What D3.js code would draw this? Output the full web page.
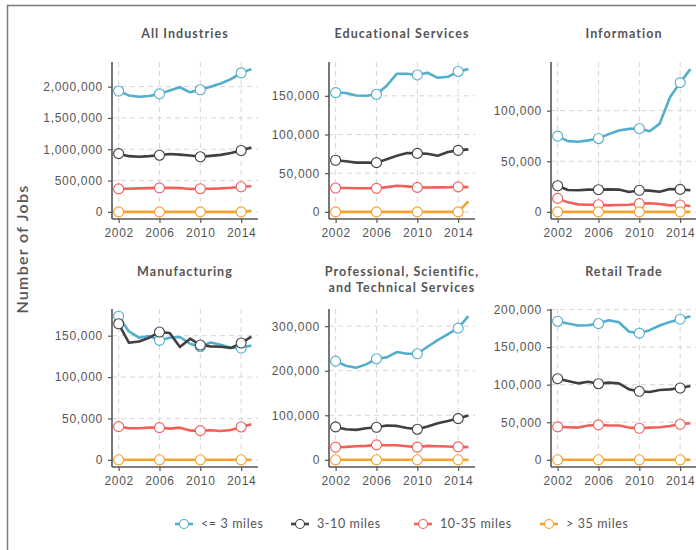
<!DOCTYPE html>
<html>
<head>
<meta charset="utf-8">
<script src="https://cdn.jsdelivr.net/npm/d3@7"></script>
<style>
  html, body { margin: 0; padding: 0; background: #fff; }
  svg { display: block; font-family: Lato, "Open Sans", sans-serif; }
  .tick text { fill: #555; font-size: 12px; letter-spacing: 0.7px; }
  .panel-title { fill: #555; font-size: 12.5px; font-weight: 700; letter-spacing: 1.05px; }
  .legend text { fill: #555; font-size: 12.5px; letter-spacing: 0.6px; }
</style>
</head>
<body>
<svg id="chart" width="696" height="550"></svg>
<script>
// Years on the x axis
const years = [2002, 2003, 2004, 2005, 2006, 2007, 2008, 2009, 2010, 2011, 2012, 2013, 2014, 2015];
const markerYears = [2002, 2006, 2010, 2014];
const xTickValues = [2002, 2006, 2010, 2014];

// Commute-distance categories
const distanceLabels = ["<= 3 miles", "3-10 miles", "10-35 miles", "> 35 miles"];
const distanceColors = ["#52aec9", "#404040", "#f2605a", "#f7a12e"];

// All Industries
const allInd_le3   = [1930000, 1860000, 1840000, 1850000, 1885000, 1940000, 1990000, 1910000, 1950000, 2000000, 2050000, 2120000, 2220000, 2280000];
const allInd_3to10 = [930000, 890000, 880000, 890000, 905000, 925000, 915000, 900000, 880000, 895000, 910000, 940000, 980000, 1030000];
const allInd_10to35 = [367000, 370000, 375000, 380000, 383000, 385000, 380000, 365000, 370000, 370000, 375000, 385000, 400000, 410000];
const allInd_gt35  = [0, 0, 0, 0, 0, 0, 0, 0, 0, 0, 0, 0, 0, 16000];

// Educational Services
const edu_le3   = [154200, 153600, 150500, 150000, 152000, 163000, 178600, 178600, 177000, 179800, 173300, 174600, 181500, 184500];
const edu_3to10 = [66700, 65400, 63600, 63600, 63600, 68000, 72600, 76000, 75600, 75200, 72600, 77300, 79500, 80800];
const edu_10to35 = [30800, 30800, 30600, 30500, 30400, 32000, 33700, 33000, 31600, 31500, 31600, 31800, 32300, 32000];
const edu_gt35  = [0, 0, 0, 0, 0, 0, 0, 0, 0, 0, 0, 0, 0, 13600];

// Information
const info_le3   = [74800, 69900, 69300, 70600, 72500, 76800, 80400, 82000, 82300, 79700, 87200, 113300, 127700, 141000];
const info_3to10 = [25800, 21600, 21300, 22000, 21900, 22200, 22000, 19600, 21300, 21000, 19900, 22500, 22200, 21300];
const info_10to35 = [13300, 9400, 7400, 7100, 7100, 6400, 6800, 7100, 8100, 8500, 7800, 6400, 6800, 5800];
const info_gt35  = [0, 0, 0, 0, 0, 0, 0, 0, 0, 0, 0, 0, 0, 0];

// Manufacturing
const manu_le3   = [173600, 155200, 147600, 149600, 144400, 147600, 148400, 140300, 136700, 141900, 139100, 135500, 135100, 138300];
const manu_3to10 = [164400, 141500, 143100, 147600, 154400, 153200, 136300, 146400, 138700, 137100, 136700, 135100, 141100, 148800];
const manu_10to35 = [40100, 38100, 38100, 38900, 38900, 37700, 38900, 35300, 35300, 35700, 34900, 36100, 39700, 42900];
const manu_gt35  = [0, 0, 0, 0, 0, 0, 0, 0, 0, 0, 0, 0, 0, 0];

// Professional, Scientific, and Technical Services
const prof_le3   = [221600, 211200, 206700, 214200, 226900, 229900, 241800, 238000, 238000, 253700, 268700, 282000, 295500, 322400];
const prof_3to10 = [73900, 68700, 67200, 70900, 73100, 76900, 76100, 71600, 68700, 74600, 82100, 87300, 92500, 99300];
const prof_10to35 = [28400, 29100, 30600, 31300, 33600, 32800, 32800, 30600, 28400, 31300, 30600, 29900, 29100, 28400];
const prof_gt35  = [0, 0, 0, 0, 0, 0, 0, 0, 0, 0, 0, 0, 0, 0];

// Retail Trade
const retail_le3   = [184500, 181400, 178800, 179200, 181400, 185800, 183200, 170400, 168600, 172600, 178800, 183600, 187200, 191200];
const retail_3to10 = [108000, 104900, 101800, 104000, 101300, 102700, 101800, 93800, 91200, 90300, 92900, 93800, 95600, 98200];
const retail_10to35 = [43800, 43400, 42900, 45600, 46500, 45600, 45600, 42900, 42000, 42900, 43400, 45100, 47300, 48700];
const retail_gt35  = [0, 0, 0, 0, 0, 0, 0, 0, 0, 0, 0, 0, 0, 0];

const panelTitles = [
  ["All Industries"],
  ["Educational Services"],
  ["Information"],
  ["Manufacturing"],
  ["Professional, Scientific,", "and Technical Services"],
  ["Retail Trade"]
];
const panelSeries = [
  [allInd_le3, allInd_3to10, allInd_10to35, allInd_gt35],
  [edu_le3, edu_3to10, edu_10to35, edu_gt35],
  [info_le3, info_3to10, info_10to35, info_gt35],
  [manu_le3, manu_3to10, manu_10to35, manu_gt35],
  [prof_le3, prof_3to10, prof_10to35, prof_gt35],
  [retail_le3, retail_3to10, retail_10to35, retail_gt35]
];

// Facet grid geometry
const colLeft = [112, 329, 551];
const panelW = 146;
const rows = [
  { top: 62, bottom: 219, titleY: 37.5 },
  { top: 309, bottom: 467, titleY: 276 }
];

const svg = d3.select("#chart");

// Outer frame
svg.append("rect")
  .attr("x", 7.5).attr("y", 5.5)
  .attr("width", 720).attr("height", 560)
  .attr("fill", "none").attr("stroke", "#7a7a7a").attr("stroke-width", 1.5);

const fmt = d3.format(",");

panelSeries.forEach((series, i) => {
  const row = rows[Math.floor(i / 3)];
  const left = colLeft[i % 3];
  const g = svg.append("g");

  // x: 5% expansion around 2002–2015
  const xSpan = years[years.length - 1] - years[0];
  const x = d3.scaleLinear()
    .domain([years[0] - 0.05 * xSpan, years[years.length - 1] + 0.05 * xSpan])
    .range([left, left + panelW]);

  // y: free scale per panel with 5% expansion
  const all = series.flat();
  const lo = d3.min(all), hi = d3.max(all);
  const pad = 0.05 * (hi - lo);
  const y = d3.scaleLinear()
    .domain([lo - pad, hi + pad])
    .range([row.bottom, row.top]);
  const yTicks = y.ticks(4);

  // dashed grid
  const grid = g.append("g")
    .attr("stroke", "#d6d6d6").attr("stroke-width", 1).attr("stroke-dasharray", "5,4");
  grid.selectAll("line.v").data(xTickValues).join("line")
    .attr("x1", d => x(d)).attr("x2", d => x(d))
    .attr("y1", row.top).attr("y2", row.bottom);
  grid.selectAll("line.h").data(yTicks).join("line")
    .attr("x1", left).attr("x2", left + panelW)
    .attr("y1", d => y(d)).attr("y2", d => y(d));

  // axes
  const xAxis = g.append("g")
    .attr("transform", `translate(0,${row.bottom})`)
    .call(d3.axisBottom(x).tickValues(xTickValues).tickFormat(d3.format("d")).tickSize(4).tickPadding(3));
  const yAxis = g.append("g")
    .attr("transform", `translate(${left},0)`)
    .call(d3.axisLeft(y).tickValues(yTicks).tickFormat(fmt).tickSize(4).tickPadding(5));
  [xAxis, yAxis].forEach(a => {
    a.select(".domain").attr("stroke", "#555").attr("stroke-width", 1.6);
    a.selectAll(".tick line").attr("stroke", "#555").attr("stroke-width", 1.2);
  });
  xAxis.select(".domain").attr("d", `M${left},0H${left + panelW}`);
  yAxis.select(".domain").attr("d", `M0,${row.top}V${row.bottom}`);
  xAxis.selectAll(".tick text").attr("dy", "0.9em");

  // lines
  const line = d3.line().x((d, j) => x(years[j])).y(d => y(d));
  series.forEach((vals, s) => {
    g.append("path")
      .attr("d", line(vals))
      .attr("fill", "none")
      .attr("stroke", distanceColors[s])
      .attr("stroke-width", 2.6)
      .attr("stroke-linejoin", "round")
      .attr("stroke-linecap", "butt");
  });

  // open circle markers every four years
  series.forEach((vals, s) => {
    g.selectAll(null)
      .data(markerYears)
      .join("circle")
      .attr("cx", d => x(d))
      .attr("cy", d => y(vals[years.indexOf(d)]))
      .attr("r", 5)
      .attr("fill", "#fff")
      .attr("stroke", distanceColors[s])
      .attr("stroke-width", 1.1);
  });

  // facet title
  const t = g.append("text")
    .attr("class", "panel-title")
    .attr("text-anchor", "middle")
    .attr("x", left + panelW / 2)
    .attr("y", row.titleY);
  panelTitles[i].forEach((ln, k) => {
    t.append("tspan").attr("x", left + panelW / 2).attr("dy", k === 0 ? 0 : 16).text(ln);
  });
});

// y-axis title
svg.append("text")
  .attr("transform", "translate(28,249) rotate(-90)")
  .attr("text-anchor", "middle")
  .attr("fill", "#555")
  .attr("font-size", 16)
  .attr("font-weight", 600)
  .attr("letter-spacing", 1.3)
  .text("Number of Jobs");

// legend
const legendX = [184, 300, 423, 549];
const legend = svg.append("g").attr("class", "legend");
distanceLabels.forEach((lab, s) => {
  const cx = legendX[s];
  const item = legend.append("g");
  item.append("line")
    .attr("x1", cx - 9).attr("x2", cx + 9)
    .attr("y1", 524).attr("y2", 524)
    .attr("stroke", distanceColors[s]).attr("stroke-width", 2.6);
  item.append("circle")
    .attr("cx", cx).attr("cy", 524).attr("r", 4.5)
    .attr("fill", "#fff").attr("stroke", distanceColors[s]).attr("stroke-width", 1.1);
  item.append("text")
    .attr("x", cx + 17).attr("y", 524).attr("dy", "0.35em")
    .text(lab);
});
</script>
</body>
</html>
